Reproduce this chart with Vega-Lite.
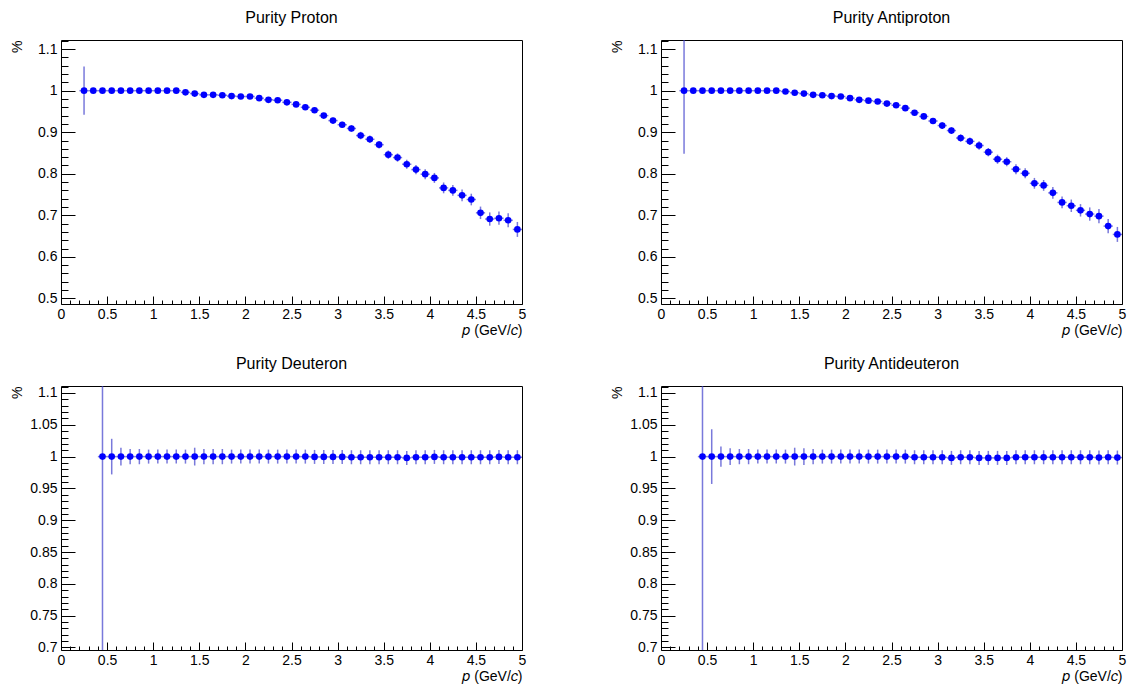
{
  "$schema": "https://vega.github.io/schema/vega-lite/v6.json",
  "autosize": {"type": "none"},
  "padding": {"left": 61, "top": 40, "right": 1079, "bottom": 646},
  "background": "white",
  "config": {
    "view": {"stroke": "#000", "strokeWidth": 1},
    "axis": {"domain": false, "grid": false, "labelFont": "Liberation Sans", "labelFontSize": 14, "labelColor": "#000", "titleFont": "Liberation Sans", "titleFontSize": 14, "titleFontWeight": "normal", "titleColor": "#000", "tickColor": "#000", "tickWidth": 1, "labelFlush": false, "labelOverlap": false, "labelBound": false},
    "title": {"font": "Liberation Sans", "fontSize": 16, "fontWeight": "normal", "color": "#000", "frame": "group", "anchor": "middle", "offset": 8, "baseline": "alphabetic"}
  },
  "datasets": {
    "proton": [
      {"p":0.25,"purity":1.0,"err":0.058,"dp":0.05},{"p":0.35,"purity":1.0,"err":0.001,"dp":0.05},{"p":0.45,"purity":1.0,"err":0.001,"dp":0.05},{"p":0.55,"purity":1.0,"err":0.001,"dp":0.05},{"p":0.65,"purity":1.0,"err":0.001,"dp":0.05},{"p":0.75,"purity":1.0,"err":0.001,"dp":0.05},{"p":0.85,"purity":1.0,"err":0.001,"dp":0.05},{"p":0.95,"purity":1.0,"err":0.001,"dp":0.05},{"p":1.05,"purity":1.0,"err":0.001,"dp":0.05},{"p":1.15,"purity":1.0,"err":0.001,"dp":0.05},{"p":1.25,"purity":1.0,"err":0.001,"dp":0.05},{"p":1.35,"purity":0.996,"err":0.002,"dp":0.05},{"p":1.45,"purity":0.993,"err":0.002,"dp":0.05},{"p":1.55,"purity":0.990,"err":0.003,"dp":0.05},{"p":1.65,"purity":0.990,"err":0.003,"dp":0.05},{"p":1.75,"purity":0.989,"err":0.003,"dp":0.05},{"p":1.85,"purity":0.987,"err":0.003,"dp":0.05},{"p":1.95,"purity":0.986,"err":0.003,"dp":0.05},{"p":2.05,"purity":0.986,"err":0.004,"dp":0.05},{"p":2.15,"purity":0.982,"err":0.004,"dp":0.05},{"p":2.25,"purity":0.978,"err":0.004,"dp":0.05},{"p":2.35,"purity":0.977,"err":0.004,"dp":0.05},{"p":2.45,"purity":0.972,"err":0.005,"dp":0.05},{"p":2.55,"purity":0.967,"err":0.005,"dp":0.05},{"p":2.65,"purity":0.960,"err":0.006,"dp":0.05},{"p":2.75,"purity":0.953,"err":0.006,"dp":0.05},{"p":2.85,"purity":0.940,"err":0.006,"dp":0.05},{"p":2.95,"purity":0.928,"err":0.007,"dp":0.05},{"p":3.05,"purity":0.918,"err":0.007,"dp":0.05},{"p":3.15,"purity":0.909,"err":0.008,"dp":0.05},{"p":3.25,"purity":0.892,"err":0.009,"dp":0.05},{"p":3.35,"purity":0.883,"err":0.009,"dp":0.05},{"p":3.45,"purity":0.870,"err":0.009,"dp":0.05},{"p":3.55,"purity":0.846,"err":0.010,"dp":0.05},{"p":3.65,"purity":0.839,"err":0.010,"dp":0.05},{"p":3.75,"purity":0.823,"err":0.011,"dp":0.05},{"p":3.85,"purity":0.810,"err":0.011,"dp":0.05},{"p":3.95,"purity":0.799,"err":0.012,"dp":0.05},{"p":4.05,"purity":0.790,"err":0.012,"dp":0.05},{"p":4.15,"purity":0.766,"err":0.013,"dp":0.05},{"p":4.25,"purity":0.760,"err":0.013,"dp":0.05},{"p":4.35,"purity":0.748,"err":0.014,"dp":0.05},{"p":4.45,"purity":0.738,"err":0.014,"dp":0.05},{"p":4.55,"purity":0.706,"err":0.015,"dp":0.05},{"p":4.65,"purity":0.691,"err":0.016,"dp":0.05},{"p":4.75,"purity":0.693,"err":0.016,"dp":0.05},{"p":4.85,"purity":0.688,"err":0.017,"dp":0.05},{"p":4.95,"purity":0.666,"err":0.018,"dp":0.05}
    ],
    "antiproton": [
      {"p":0.25,"purity":1.0,"err":0.152,"dp":0.05},{"p":0.35,"purity":1.0,"err":0.001,"dp":0.05},{"p":0.45,"purity":1.0,"err":0.001,"dp":0.05},{"p":0.55,"purity":1.0,"err":0.001,"dp":0.05},{"p":0.65,"purity":1.0,"err":0.001,"dp":0.05},{"p":0.75,"purity":1.0,"err":0.001,"dp":0.05},{"p":0.85,"purity":1.0,"err":0.001,"dp":0.05},{"p":0.95,"purity":1.0,"err":0.001,"dp":0.05},{"p":1.05,"purity":1.0,"err":0.001,"dp":0.05},{"p":1.15,"purity":1.0,"err":0.001,"dp":0.05},{"p":1.25,"purity":1.0,"err":0.001,"dp":0.05},{"p":1.35,"purity":0.998,"err":0.002,"dp":0.05},{"p":1.45,"purity":0.995,"err":0.002,"dp":0.05},{"p":1.55,"purity":0.993,"err":0.003,"dp":0.05},{"p":1.65,"purity":0.990,"err":0.003,"dp":0.05},{"p":1.75,"purity":0.989,"err":0.003,"dp":0.05},{"p":1.85,"purity":0.987,"err":0.003,"dp":0.05},{"p":1.95,"purity":0.986,"err":0.004,"dp":0.05},{"p":2.05,"purity":0.982,"err":0.004,"dp":0.05},{"p":2.15,"purity":0.978,"err":0.004,"dp":0.05},{"p":2.25,"purity":0.976,"err":0.004,"dp":0.05},{"p":2.35,"purity":0.974,"err":0.005,"dp":0.05},{"p":2.45,"purity":0.969,"err":0.005,"dp":0.05},{"p":2.55,"purity":0.965,"err":0.005,"dp":0.05},{"p":2.65,"purity":0.958,"err":0.006,"dp":0.05},{"p":2.75,"purity":0.947,"err":0.006,"dp":0.05},{"p":2.85,"purity":0.938,"err":0.007,"dp":0.05},{"p":2.95,"purity":0.927,"err":0.007,"dp":0.05},{"p":3.05,"purity":0.916,"err":0.008,"dp":0.05},{"p":3.15,"purity":0.904,"err":0.008,"dp":0.05},{"p":3.25,"purity":0.886,"err":0.009,"dp":0.05},{"p":3.35,"purity":0.878,"err":0.009,"dp":0.05},{"p":3.45,"purity":0.868,"err":0.010,"dp":0.05},{"p":3.55,"purity":0.852,"err":0.010,"dp":0.05},{"p":3.65,"purity":0.835,"err":0.011,"dp":0.05},{"p":3.75,"purity":0.829,"err":0.011,"dp":0.05},{"p":3.85,"purity":0.811,"err":0.012,"dp":0.05},{"p":3.95,"purity":0.801,"err":0.012,"dp":0.05},{"p":4.05,"purity":0.777,"err":0.013,"dp":0.05},{"p":4.15,"purity":0.772,"err":0.013,"dp":0.05},{"p":4.25,"purity":0.754,"err":0.014,"dp":0.05},{"p":4.35,"purity":0.731,"err":0.014,"dp":0.05},{"p":4.45,"purity":0.723,"err":0.015,"dp":0.05},{"p":4.55,"purity":0.712,"err":0.015,"dp":0.05},{"p":4.65,"purity":0.703,"err":0.016,"dp":0.05},{"p":4.75,"purity":0.698,"err":0.017,"dp":0.05},{"p":4.85,"purity":0.674,"err":0.017,"dp":0.05},{"p":4.95,"purity":0.654,"err":0.018,"dp":0.05}
    ],
    "deuteron": [
      {"p":0.45,"purity":1.0,"err":0.6,"dp":0.05},{"p":0.55,"purity":1.0,"err":0.028,"dp":0.05},{"p":0.65,"purity":1.0,"err":0.014,"dp":0.05},{"p":0.75,"purity":1.0,"err":0.012,"dp":0.05},{"p":0.85,"purity":1.0,"err":0.012,"dp":0.05},{"p":0.95,"purity":1.0,"err":0.011,"dp":0.05},{"p":1.05,"purity":1.0,"err":0.011,"dp":0.05},{"p":1.15,"purity":1.0,"err":0.011,"dp":0.05},{"p":1.25,"purity":1.0,"err":0.011,"dp":0.05},{"p":1.35,"purity":1.0,"err":0.011,"dp":0.05},{"p":1.45,"purity":1.0,"err":0.014,"dp":0.05},{"p":1.55,"purity":1.0,"err":0.012,"dp":0.05},{"p":1.65,"purity":1.0,"err":0.012,"dp":0.05},{"p":1.75,"purity":1.0,"err":0.012,"dp":0.05},{"p":1.85,"purity":1.0,"err":0.011,"dp":0.05},{"p":1.95,"purity":1.0,"err":0.011,"dp":0.05},{"p":2.05,"purity":1.0,"err":0.011,"dp":0.05},{"p":2.15,"purity":1.0,"err":0.011,"dp":0.05},{"p":2.25,"purity":1.0,"err":0.011,"dp":0.05},{"p":2.35,"purity":1.0,"err":0.011,"dp":0.05},{"p":2.45,"purity":1.0,"err":0.011,"dp":0.05},{"p":2.55,"purity":1.0,"err":0.011,"dp":0.05},{"p":2.65,"purity":1.0,"err":0.011,"dp":0.05},{"p":2.75,"purity":0.9995,"err":0.011,"dp":0.05},{"p":2.85,"purity":0.9995,"err":0.011,"dp":0.05},{"p":2.95,"purity":0.9995,"err":0.011,"dp":0.05},{"p":3.05,"purity":0.9995,"err":0.011,"dp":0.05},{"p":3.15,"purity":0.999,"err":0.011,"dp":0.05},{"p":3.25,"purity":0.999,"err":0.011,"dp":0.05},{"p":3.35,"purity":0.999,"err":0.011,"dp":0.05},{"p":3.45,"purity":0.999,"err":0.011,"dp":0.05},{"p":3.55,"purity":0.999,"err":0.011,"dp":0.05},{"p":3.65,"purity":0.999,"err":0.011,"dp":0.05},{"p":3.75,"purity":0.998,"err":0.011,"dp":0.05},{"p":3.85,"purity":0.999,"err":0.011,"dp":0.05},{"p":3.95,"purity":0.999,"err":0.011,"dp":0.05},{"p":4.05,"purity":0.9995,"err":0.011,"dp":0.05},{"p":4.15,"purity":0.999,"err":0.011,"dp":0.05},{"p":4.25,"purity":0.999,"err":0.011,"dp":0.05},{"p":4.35,"purity":0.999,"err":0.011,"dp":0.05},{"p":4.45,"purity":0.999,"err":0.011,"dp":0.05},{"p":4.55,"purity":0.999,"err":0.011,"dp":0.05},{"p":4.65,"purity":0.999,"err":0.011,"dp":0.05},{"p":4.75,"purity":0.9995,"err":0.011,"dp":0.05},{"p":4.85,"purity":0.999,"err":0.011,"dp":0.05},{"p":4.95,"purity":0.999,"err":0.011,"dp":0.05}
    ],
    "antideuteron": [
      {"p":0.45,"purity":1.0,"err":0.6,"dp":0.05},{"p":0.55,"purity":1.0,"err":0.043,"dp":0.05},{"p":0.65,"purity":1.0,"err":0.016,"dp":0.05},{"p":0.75,"purity":1.0,"err":0.013,"dp":0.05},{"p":0.85,"purity":1.0,"err":0.012,"dp":0.05},{"p":0.95,"purity":1.0,"err":0.012,"dp":0.05},{"p":1.05,"purity":1.0,"err":0.011,"dp":0.05},{"p":1.15,"purity":1.0,"err":0.011,"dp":0.05},{"p":1.25,"purity":1.0,"err":0.011,"dp":0.05},{"p":1.35,"purity":1.0,"err":0.011,"dp":0.05},{"p":1.45,"purity":1.0,"err":0.014,"dp":0.05},{"p":1.55,"purity":1.0,"err":0.013,"dp":0.05},{"p":1.65,"purity":1.0,"err":0.012,"dp":0.05},{"p":1.75,"purity":1.0,"err":0.011,"dp":0.05},{"p":1.85,"purity":1.0,"err":0.011,"dp":0.05},{"p":1.95,"purity":1.0,"err":0.011,"dp":0.05},{"p":2.05,"purity":1.0,"err":0.011,"dp":0.05},{"p":2.15,"purity":1.0,"err":0.011,"dp":0.05},{"p":2.25,"purity":1.0,"err":0.011,"dp":0.05},{"p":2.35,"purity":1.0,"err":0.011,"dp":0.05},{"p":2.45,"purity":1.0,"err":0.011,"dp":0.05},{"p":2.55,"purity":1.0,"err":0.011,"dp":0.05},{"p":2.65,"purity":1.0,"err":0.011,"dp":0.05},{"p":2.75,"purity":0.999,"err":0.011,"dp":0.05},{"p":2.85,"purity":0.999,"err":0.011,"dp":0.05},{"p":2.95,"purity":0.999,"err":0.011,"dp":0.05},{"p":3.05,"purity":0.999,"err":0.011,"dp":0.05},{"p":3.15,"purity":0.998,"err":0.011,"dp":0.05},{"p":3.25,"purity":0.999,"err":0.011,"dp":0.05},{"p":3.35,"purity":0.999,"err":0.011,"dp":0.05},{"p":3.45,"purity":0.998,"err":0.011,"dp":0.05},{"p":3.55,"purity":0.998,"err":0.011,"dp":0.05},{"p":3.65,"purity":0.998,"err":0.011,"dp":0.05},{"p":3.75,"purity":0.998,"err":0.011,"dp":0.05},{"p":3.85,"purity":0.999,"err":0.011,"dp":0.05},{"p":3.95,"purity":0.999,"err":0.011,"dp":0.05},{"p":4.05,"purity":0.999,"err":0.011,"dp":0.05},{"p":4.15,"purity":0.999,"err":0.011,"dp":0.05},{"p":4.25,"purity":0.999,"err":0.011,"dp":0.05},{"p":4.35,"purity":0.999,"err":0.011,"dp":0.05},{"p":4.45,"purity":0.999,"err":0.011,"dp":0.05},{"p":4.55,"purity":0.999,"err":0.011,"dp":0.05},{"p":4.65,"purity":0.999,"err":0.011,"dp":0.05},{"p":4.75,"purity":0.9985,"err":0.011,"dp":0.05},{"p":4.85,"purity":0.999,"err":0.011,"dp":0.05},{"p":4.95,"purity":0.9985,"err":0.011,"dp":0.05}
    ]
  },
  "columns": 2,
  "spacing": {"row": 82, "column": 139},
  "bounds": "flush",
  "concat": [
    {
      "title": {"text": "Purity Proton"},
      "width": 461, "height": 264,
      "data": {"name": "proton"},
      "encoding": {
        "x": {"field": "p", "type": "quantitative", "scale": {"domain": [0, 5], "nice": false, "zero": false},
          "axis": {"values": [0,0.1,0.2,0.3,0.4,0.5,0.6,0.7,0.8,0.9,1,1.1,1.2,1.3,1.4,1.5,1.6,1.7,1.8,1.9,2,2.1,2.2,2.3,2.4,2.5,2.6,2.7,2.8,2.9,3,3.1,3.2,3.3,3.4,3.5,3.6,3.7,3.8,3.9,4,4.1,4.2,4.3,4.4,4.5,4.6,4.7,4.8,4.9,5],
            "tickSize": {"condition": {"test": "abs(datum.value*2-round(datum.value*2))<1e-6", "value": -8}, "value": -4},
            "labelExpr": "abs(datum.value*2-round(datum.value*2))<1e-6 ? format(datum.value,'.1~f') : ''",
            "labelPadding": 11, "title": "𝑝 (GeV/𝑐)", "titleAnchor": "end", "titleAlign": "right", "titleBaseline": "top", "titleX": 461, "titleY": 19}},
        "y": {"field": "purity", "type": "quantitative", "scale": {"domain": [0.4865, 1.122], "nice": false, "zero": false, "clamp": true},
          "axis": {"values": [0.5,0.52,0.54,0.56,0.58,0.6,0.62,0.64,0.66,0.68,0.7,0.72,0.74,0.76,0.78,0.8,0.82,0.84,0.86,0.88,0.9,0.92,0.94,0.96,0.98,1,1.02,1.04,1.06,1.08,1.1,1.12],
            "tickSize": {"condition": {"test": "abs(datum.value*10-round(datum.value*10))<1e-6", "value": -14}, "value": -7},
            "labelExpr": "abs(datum.value*10-round(datum.value*10))<1e-6 ? format(datum.value,'.2~f') : ''",
            "labelPadding": 18, "title": "%", "titleAnchor": "end", "titleAlign": "right", "titleBaseline": "middle", "titleX": -44, "titleY": 0}}
      },
      "layer": [
        {"mark": {"type": "errorbar", "color": "#4040cc", "thickness": 1.5, "opacity": 0.7}, "encoding": {"yError": {"field": "err"}}},
        {"mark": {"type": "errorbar", "color": "#4040cc", "thickness": 1.5, "opacity": 0.7}, "encoding": {"xError": {"field": "dp"}}},
        {"mark": {"type": "point", "filled": true, "color": "#0000ff", "size": 44, "opacity": 1}}
      ]
    },
    {
      "title": {"text": "Purity Antiproton"},
      "width": 461, "height": 264,
      "data": {"name": "antiproton"},
      "encoding": {
        "x": {"field": "p", "type": "quantitative", "scale": {"domain": [0, 5], "nice": false, "zero": false},
          "axis": {"values": [0,0.1,0.2,0.3,0.4,0.5,0.6,0.7,0.8,0.9,1,1.1,1.2,1.3,1.4,1.5,1.6,1.7,1.8,1.9,2,2.1,2.2,2.3,2.4,2.5,2.6,2.7,2.8,2.9,3,3.1,3.2,3.3,3.4,3.5,3.6,3.7,3.8,3.9,4,4.1,4.2,4.3,4.4,4.5,4.6,4.7,4.8,4.9,5],
            "tickSize": {"condition": {"test": "abs(datum.value*2-round(datum.value*2))<1e-6", "value": -8}, "value": -4},
            "labelExpr": "abs(datum.value*2-round(datum.value*2))<1e-6 ? format(datum.value,'.1~f') : ''",
            "labelPadding": 11, "title": "𝑝 (GeV/𝑐)", "titleAnchor": "end", "titleAlign": "right", "titleBaseline": "top", "titleX": 461, "titleY": 19}},
        "y": {"field": "purity", "type": "quantitative", "scale": {"domain": [0.4865, 1.122], "nice": false, "zero": false, "clamp": true},
          "axis": {"values": [0.5,0.52,0.54,0.56,0.58,0.6,0.62,0.64,0.66,0.68,0.7,0.72,0.74,0.76,0.78,0.8,0.82,0.84,0.86,0.88,0.9,0.92,0.94,0.96,0.98,1,1.02,1.04,1.06,1.08,1.1,1.12],
            "tickSize": {"condition": {"test": "abs(datum.value*10-round(datum.value*10))<1e-6", "value": -14}, "value": -7},
            "labelExpr": "abs(datum.value*10-round(datum.value*10))<1e-6 ? format(datum.value,'.2~f') : ''",
            "labelPadding": 18, "title": "%", "titleAnchor": "end", "titleAlign": "right", "titleBaseline": "middle", "titleX": -44, "titleY": 0}}
      },
      "layer": [
        {"mark": {"type": "errorbar", "color": "#4040cc", "thickness": 1.5, "opacity": 0.7}, "encoding": {"yError": {"field": "err"}}},
        {"mark": {"type": "errorbar", "color": "#4040cc", "thickness": 1.5, "opacity": 0.7}, "encoding": {"xError": {"field": "dp"}}},
        {"mark": {"type": "point", "filled": true, "color": "#0000ff", "size": 44, "opacity": 1}}
      ]
    },
    {
      "title": {"text": "Purity Deuteron"},
      "width": 461, "height": 264,
      "data": {"name": "deuteron"},
      "encoding": {
        "x": {"field": "p", "type": "quantitative", "scale": {"domain": [0, 5], "nice": false, "zero": false},
          "axis": {"values": [0,0.1,0.2,0.3,0.4,0.5,0.6,0.7,0.8,0.9,1,1.1,1.2,1.3,1.4,1.5,1.6,1.7,1.8,1.9,2,2.1,2.2,2.3,2.4,2.5,2.6,2.7,2.8,2.9,3,3.1,3.2,3.3,3.4,3.5,3.6,3.7,3.8,3.9,4,4.1,4.2,4.3,4.4,4.5,4.6,4.7,4.8,4.9,5],
            "tickSize": {"condition": {"test": "abs(datum.value*2-round(datum.value*2))<1e-6", "value": -8}, "value": -4},
            "labelExpr": "abs(datum.value*2-round(datum.value*2))<1e-6 ? format(datum.value,'.1~f') : ''",
            "labelPadding": 11, "title": "𝑝 (GeV/𝑐)", "titleAnchor": "end", "titleAlign": "right", "titleBaseline": "top", "titleX": 461, "titleY": 19}},
        "y": {"field": "purity", "type": "quantitative", "scale": {"domain": [0.696, 1.111], "nice": false, "zero": false, "clamp": true},
          "axis": {"values": [0.7,0.71,0.72,0.73,0.74,0.75,0.76,0.77,0.78,0.79,0.8,0.81,0.82,0.83,0.84,0.85,0.86,0.87,0.88,0.89,0.9,0.91,0.92,0.93,0.94,0.95,0.96,0.97,0.98,0.99,1,1.01,1.02,1.03,1.04,1.05,1.06,1.07,1.08,1.09,1.1,1.11],
            "tickSize": {"condition": {"test": "abs(datum.value*20-round(datum.value*20))<1e-6", "value": -14}, "value": -7},
            "labelExpr": "abs(datum.value*20-round(datum.value*20))<1e-6 ? format(datum.value,'.2~f') : ''",
            "labelPadding": 18, "title": "%", "titleAnchor": "end", "titleAlign": "right", "titleBaseline": "middle", "titleX": -44, "titleY": 0}}
      },
      "layer": [
        {"mark": {"type": "errorbar", "color": "#4040cc", "thickness": 1.5, "opacity": 0.7}, "encoding": {"yError": {"field": "err"}}},
        {"mark": {"type": "errorbar", "color": "#4040cc", "thickness": 1.5, "opacity": 0.7}, "encoding": {"xError": {"field": "dp"}}},
        {"mark": {"type": "point", "filled": true, "color": "#0000ff", "size": 44, "opacity": 1}}
      ]
    },
    {
      "title": {"text": "Purity Antideuteron"},
      "width": 461, "height": 264,
      "data": {"name": "antideuteron"},
      "encoding": {
        "x": {"field": "p", "type": "quantitative", "scale": {"domain": [0, 5], "nice": false, "zero": false},
          "axis": {"values": [0,0.1,0.2,0.3,0.4,0.5,0.6,0.7,0.8,0.9,1,1.1,1.2,1.3,1.4,1.5,1.6,1.7,1.8,1.9,2,2.1,2.2,2.3,2.4,2.5,2.6,2.7,2.8,2.9,3,3.1,3.2,3.3,3.4,3.5,3.6,3.7,3.8,3.9,4,4.1,4.2,4.3,4.4,4.5,4.6,4.7,4.8,4.9,5],
            "tickSize": {"condition": {"test": "abs(datum.value*2-round(datum.value*2))<1e-6", "value": -8}, "value": -4},
            "labelExpr": "abs(datum.value*2-round(datum.value*2))<1e-6 ? format(datum.value,'.1~f') : ''",
            "labelPadding": 11, "title": "𝑝 (GeV/𝑐)", "titleAnchor": "end", "titleAlign": "right", "titleBaseline": "top", "titleX": 461, "titleY": 19}},
        "y": {"field": "purity", "type": "quantitative", "scale": {"domain": [0.696, 1.111], "nice": false, "zero": false, "clamp": true},
          "axis": {"values": [0.7,0.71,0.72,0.73,0.74,0.75,0.76,0.77,0.78,0.79,0.8,0.81,0.82,0.83,0.84,0.85,0.86,0.87,0.88,0.89,0.9,0.91,0.92,0.93,0.94,0.95,0.96,0.97,0.98,0.99,1,1.01,1.02,1.03,1.04,1.05,1.06,1.07,1.08,1.09,1.1,1.11],
            "tickSize": {"condition": {"test": "abs(datum.value*20-round(datum.value*20))<1e-6", "value": -14}, "value": -7},
            "labelExpr": "abs(datum.value*20-round(datum.value*20))<1e-6 ? format(datum.value,'.2~f') : ''",
            "labelPadding": 18, "title": "%", "titleAnchor": "end", "titleAlign": "right", "titleBaseline": "middle", "titleX": -44, "titleY": 0}}
      },
      "layer": [
        {"mark": {"type": "errorbar", "color": "#4040cc", "thickness": 1.5, "opacity": 0.7}, "encoding": {"yError": {"field": "err"}}},
        {"mark": {"type": "errorbar", "color": "#4040cc", "thickness": 1.5, "opacity": 0.7}, "encoding": {"xError": {"field": "dp"}}},
        {"mark": {"type": "point", "filled": true, "color": "#0000ff", "size": 44, "opacity": 1}}
      ]
    }
  ]
}
